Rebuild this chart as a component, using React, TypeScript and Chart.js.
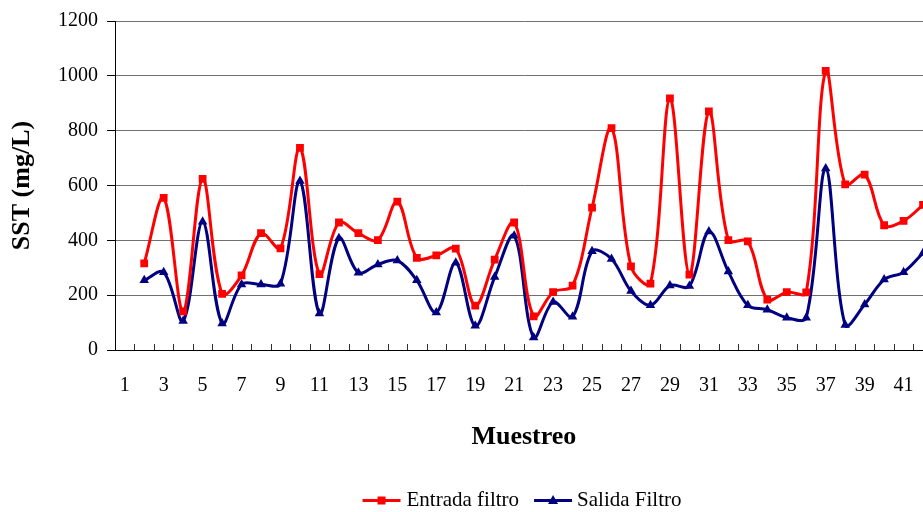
import React, { useEffect, useRef } from 'react';
import { Chart, registerables } from 'chart.js';

Chart.register(...registerables);

const categories = [
  '1', '2', '3', '4', '5', '6', '7', '8', '9', '10',
  '11', '12', '13', '14', '15', '16', '17', '18', '19', '20',
  '21', '22', '23', '24', '25', '26', '27', '28', '29', '30',
  '31', '32', '33', '34', '35', '36', '37', '38', '39', '40',
  '41', '42',
];

const entradaFiltro = [
  null, 316, 555, 141, 624, 205, 272, 426, 371, 737,
  277, 465, 426, 401, 541, 336, 345, 370, 162, 330,
  465, 123, 211, 235, 519, 809, 305, 242, 918, 275,
  870, 401, 396, 184, 211, 210, 1018, 604, 640, 455,
  471, 529,
];

const salidaFiltro = [
  null, 254, 284, 106, 468, 97, 239, 239, 242, 616,
  133, 408, 282, 312, 326, 254, 137, 318, 88, 266,
  417, 46, 175, 121, 360, 332, 215, 163, 235, 233,
  432, 286, 163, 147, 118, 118, 662, 91, 166, 257,
  284, 354,
];

const seriesNames = ['Entrada filtro', 'Salida Filtro'];
const seriesColors = ['#FF0000', '#000080'];
const yTicks = [0, 200, 400, 600, 800, 1000, 1200];

const FONT = "'Liberation Serif', 'Times New Roman', serif";

const decorPlugin = {
  id: 'decor',
  beforeDatasetsDraw(chart: any) {
    const { ctx, chartArea } = chart;
    const n = categories.length;
    const step = (chartArea.right - chartArea.left) / n;
    ctx.save();
    ctx.strokeStyle = '#303030';
    ctx.lineWidth = 1;
    for (let i = 1; i <= n; i++) {
      const px = Math.round(chartArea.left + i * step) + 0.5;
      ctx.beginPath();
      ctx.moveTo(px, chartArea.bottom);
      ctx.lineTo(px, chartArea.bottom - 6);
      ctx.stroke();
    }
    ctx.restore();
  },
  afterDraw(chart: any) {
    const { ctx } = chart;
    const y = 500.5;
    const lineLen = 38;
    ctx.save();
    ctx.font = `21px ${FONT}`;
    const w0 = ctx.measureText(seriesNames[0]).width;
    const w1 = ctx.measureText(seriesNames[1]).width;
    const total = lineLen + 6 + w0 + 15 + lineLen + 5 + w1;
    let x = 522 - total / 2;
    const items = [
      { name: seriesNames[0], color: seriesColors[0], w: w0, shape: 'rect', gap: 6 },
      { name: seriesNames[1], color: seriesColors[1], w: w1, shape: 'tri', gap: 5 },
    ];
    items.forEach((it, idx) => {
      ctx.strokeStyle = it.color;
      ctx.lineWidth = 3;
      ctx.beginPath();
      ctx.moveTo(x, y);
      ctx.lineTo(x + lineLen, y);
      ctx.stroke();
      const cx = x + lineLen / 2;
      ctx.fillStyle = it.color;
      if (it.shape === 'rect') {
        ctx.fillRect(cx - 4, y - 4, 8, 8);
      } else {
        ctx.beginPath();
        ctx.moveTo(cx, y - 5.5);
        ctx.lineTo(cx + 5, y + 3.5);
        ctx.lineTo(cx - 5, y + 3.5);
        ctx.closePath();
        ctx.fill();
      }
      ctx.fillStyle = '#000';
      ctx.textBaseline = 'middle';
      ctx.textAlign = 'left';
      ctx.fillText(it.name, x + lineLen + it.gap, y);
      x += lineLen + it.gap + it.w + (idx === 0 ? 15 : 0);
    });
    ctx.restore();
  },
};

export default function App() {
  const ref = useRef<HTMLCanvasElement | null>(null);

  useEffect(() => {
    if (!ref.current) return;
    const chart = new Chart(ref.current, {
      type: 'line',
      data: {
        labels: categories,
        datasets: [
          {
            label: seriesNames[0],
            data: entradaFiltro,
            borderColor: seriesColors[0],
            backgroundColor: seriesColors[0],
            borderWidth: 3,
            tension: 0.35,
            pointStyle: 'rect',
            pointRadius: 5.5,
            pointBorderWidth: 0,
            pointBackgroundColor: seriesColors[0],
            fill: false,
          },
          {
            label: seriesNames[1],
            data: salidaFiltro,
            borderColor: seriesColors[1],
            backgroundColor: seriesColors[1],
            borderWidth: 3,
            tension: 0.35,
            pointStyle: 'triangle',
            pointRadius: 5.5,
            pointBorderWidth: 0,
            pointBackgroundColor: seriesColors[1],
            fill: false,
          },
        ],
      },
      options: {
        responsive: false,
        animation: false,
        layout: { padding: { left: 0, top: 19, right: 27.2, bottom: 0 } },
        plugins: {
          legend: { display: false },
          tooltip: { enabled: false },
        },
        scales: {
          x: {
            type: 'category',
            offset: true,
            grid: { display: false, drawTicks: false, offset: true },
            border: { display: true, color: '#000', width: 1 },
            ticks: {
              autoSkip: false,
              maxRotation: 0,
              minRotation: 0,
              padding: 24,
              color: '#000',
              font: { family: FONT, size: 20 },
              callback: (_v: any, i: number) => (i % 2 === 0 ? categories[i] : ''),
            },
            title: {
              display: true,
              text: 'Muestreo',
              color: '#000',
              font: { family: FONT, size: 26, weight: 'bold' },
              padding: { top: 0, bottom: 59.4 },
            },
            afterFit: (s: any) => {
              s.height = 162;
            },
          },
          y: {
            min: yTicks[0],
            max: yTicks[yTicks.length - 1],
            afterBuildTicks: (s: any) => {
              s.ticks = yTicks.map((v) => ({ value: v }));
            },
            ticks: {
              stepSize: 200,
              padding: 9,
              color: '#000',
              font: { family: FONT, size: 20 },
              callback: (v: any) => String(v),
            },
            grid: {
              color: (c: any) => (c.tick && c.tick.value === 0 ? '#000' : '#707070'),
              tickColor: '#000',
              tickLength: 8,
              lineWidth: 1,
            },
            border: { display: true, color: '#000', width: 1 },
            title: {
              display: true,
              text: 'SST (mg/L)',
              color: '#000',
              font: { family: FONT, size: 26, weight: 'bold' },
              padding: { top: 7, bottom: 0 },
            },
            afterFit: (s: any) => {
              s.width = 115;
            },
          },
        },
      } as any,
      plugins: [decorPlugin],
    });
    return () => chart.destroy();
  }, []);

  return (
    <div
      style={{
        position: 'fixed',
        left: 0,
        top: 0,
        width: '100vw',
        height: '100vh',
        overflow: 'hidden',
        background: '#fff',
      }}
    >
      <canvas ref={ref} width={960} height={512} style={{ display: 'block' }} />
    </div>
  );
}
